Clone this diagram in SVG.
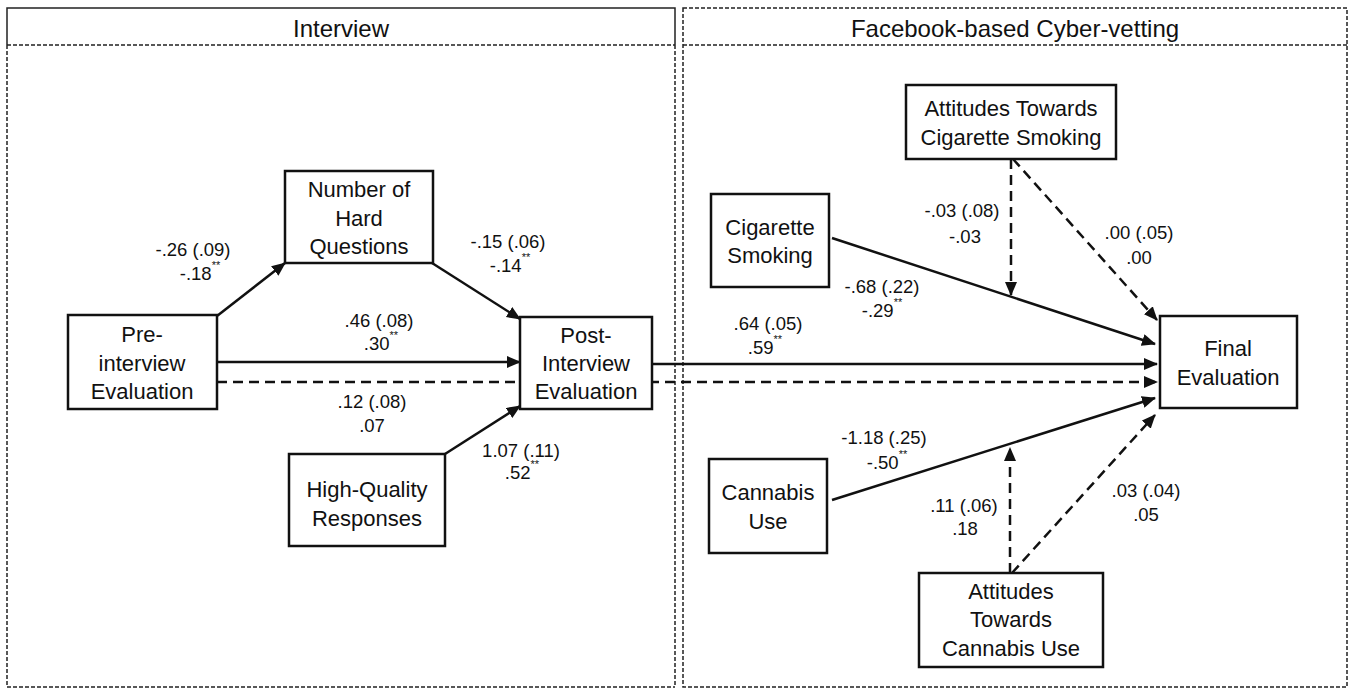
<svg xmlns="http://www.w3.org/2000/svg" width="1352" height="690" viewBox="0 0 1352 690">
<style>
text{font-family:"Liberation Sans",Arial,sans-serif;fill:#111;}
.n{font-size:22px;text-anchor:middle;dominant-baseline:central;}
.h{font-size:24px;text-anchor:middle;dominant-baseline:central;}
.l{font-size:18.5px;text-anchor:middle;dominant-baseline:central;}
.s{font-size:11px;}
.box{fill:#fff;stroke:#111;stroke-width:2.5;}
.pan{fill:none;stroke:#222;stroke-width:1.5;stroke-dasharray:4 2;}
.pans{fill:none;stroke:#222;stroke-width:1.5;}
.c{fill:none;stroke:#111;stroke-width:2.5;marker-end:url(#ah);}
.d{fill:none;stroke:#111;stroke-width:2.5;stroke-dasharray:10 6;marker-end:url(#ah);}
</style>
<defs>
<marker id="ah" markerUnits="userSpaceOnUse" markerWidth="14" markerHeight="12" refX="13" refY="6" orient="auto">
<path d="M0,0 L14,6 L0,12 z" fill="#111"/>
</marker>
</defs>
<rect width="1352" height="690" fill="#fff"/>
<g id="panels">
<path class="pans" d="M7,45 L7,8 L675,8 L675,45"/>
<path class="pan" d="M7,45 L675,45 M7,45 L7,687 M675,45 L675,687 M7,687 L675,687"/>
<rect class="pan" x="683" y="8" width="664" height="679"/>
<path class="pan" d="M683,45 L1347,45"/>
<text class="h" x="341" y="28">Interview</text>
<text class="h" x="1015" y="28">Facebook-based Cyber-vetting</text>
</g>
<g id="connectors">
<path class="d" d="M217,382 L1157,382"/>
<path class="c" d="M217,316 L285,263"/>
<path class="c" d="M432,263 L520,319"/>
<path class="c" d="M217,362 L520,362"/>
<path class="c" d="M445,454 L520,406"/>
<path class="c" d="M652,364 L1157,364"/>
<path class="c" d="M832,238 L1155,344"/>
<path class="d" d="M1011,159 L1011,295"/>
<path class="d" d="M1013,159 L1157,320"/>
<path class="c" d="M832,500 L1155,398"/>
<path class="d" d="M1010,573 L1010,448"/>
<path class="d" d="M1012,573 L1155,415"/>
</g>
<g id="labels">
<text class="l" x="193" y="249">-.26 (.09)</text>
<text class="l" x="200" y="273">-.18<tspan class="s" dy="-8">**</tspan></text>
<text class="l" x="508" y="241">-.15 (.06)</text>
<text class="l" x="510" y="265">-.14<tspan class="s" dy="-8">**</tspan></text>
<text class="l" x="379" y="320">.46 (.08)</text>
<text class="l" x="381" y="343">.30<tspan class="s" dy="-8">**</tspan></text>
<text class="l" x="372" y="401">.12 (.08)</text>
<text class="l" x="372" y="425">.07</text>
<text class="l" x="521" y="450">1.07 (.11)</text>
<text class="l" x="522" y="472">.52<tspan class="s" dy="-8">**</tspan></text>
<text class="l" x="962" y="210">-.03 (.08)</text>
<text class="l" x="965" y="236">-.03</text>
<text class="l" x="1139" y="232">.00 (.05)</text>
<text class="l" x="1139" y="257">.00</text>
<text class="l" x="882" y="286">-.68 (.22)</text>
<text class="l" x="882" y="310">-.29<tspan class="s" dy="-8">**</tspan></text>
<text class="l" x="768" y="323">.64 (.05)</text>
<text class="l" x="765" y="347">.59<tspan class="s" dy="-8">**</tspan></text>
<text class="l" x="884" y="437">-1.18 (.25)</text>
<text class="l" x="887" y="462">-.50<tspan class="s" dy="-8">**</tspan></text>
<text class="l" x="964" y="505">.11 (.06)</text>
<text class="l" x="965" y="528">.18</text>
<text class="l" x="1146" y="490">.03 (.04)</text>
<text class="l" x="1146" y="514">.05</text>
</g>
<g id="pre">
<rect class="box" x="68" y="315" width="149" height="94"/>
<text class="n" x="142" y="334">Pre-</text>
<text class="n" x="142" y="363">interview</text>
<text class="n" x="142" y="391">Evaluation</text>
</g>
<g id="hard">
<rect class="box" x="285" y="171" width="148" height="92"/>
<text class="n" x="359" y="189">Number of</text>
<text class="n" x="359" y="218">Hard</text>
<text class="n" x="359" y="246">Questions</text>
</g>
<g id="post">
<rect class="box" x="520" y="317" width="132" height="92"/>
<text class="n" x="586" y="335">Post-</text>
<text class="n" x="586" y="363">Interview</text>
<text class="n" x="586" y="391">Evaluation</text>
</g>
<g id="highq">
<rect class="box" x="289" y="454" width="156" height="92"/>
<text class="n" x="367" y="489">High-Quality</text>
<text class="n" x="367" y="518">Responses</text>
</g>
<g id="attcig">
<rect class="box" x="906" y="85" width="210" height="74"/>
<text class="n" x="1011" y="108">Attitudes Towards</text>
<text class="n" x="1011" y="137">Cigarette Smoking</text>
</g>
<g id="cig">
<rect class="box" x="711" y="194" width="118" height="93"/>
<text class="n" x="770" y="227">Cigarette</text>
<text class="n" x="770" y="255">Smoking</text>
</g>
<g id="final">
<rect class="box" x="1160" y="316" width="137" height="92"/>
<text class="n" x="1228" y="348">Final</text>
<text class="n" x="1228" y="377">Evaluation</text>
</g>
<g id="cannabis">
<rect class="box" x="709" y="459" width="118" height="94"/>
<text class="n" x="768" y="492">Cannabis</text>
<text class="n" x="768" y="521">Use</text>
</g>
<g id="attcan">
<rect class="box" x="919" y="573" width="184" height="94"/>
<text class="n" x="1011" y="591">Attitudes</text>
<text class="n" x="1011" y="619">Towards</text>
<text class="n" x="1011" y="648">Cannabis Use</text>
</g>
</svg>
